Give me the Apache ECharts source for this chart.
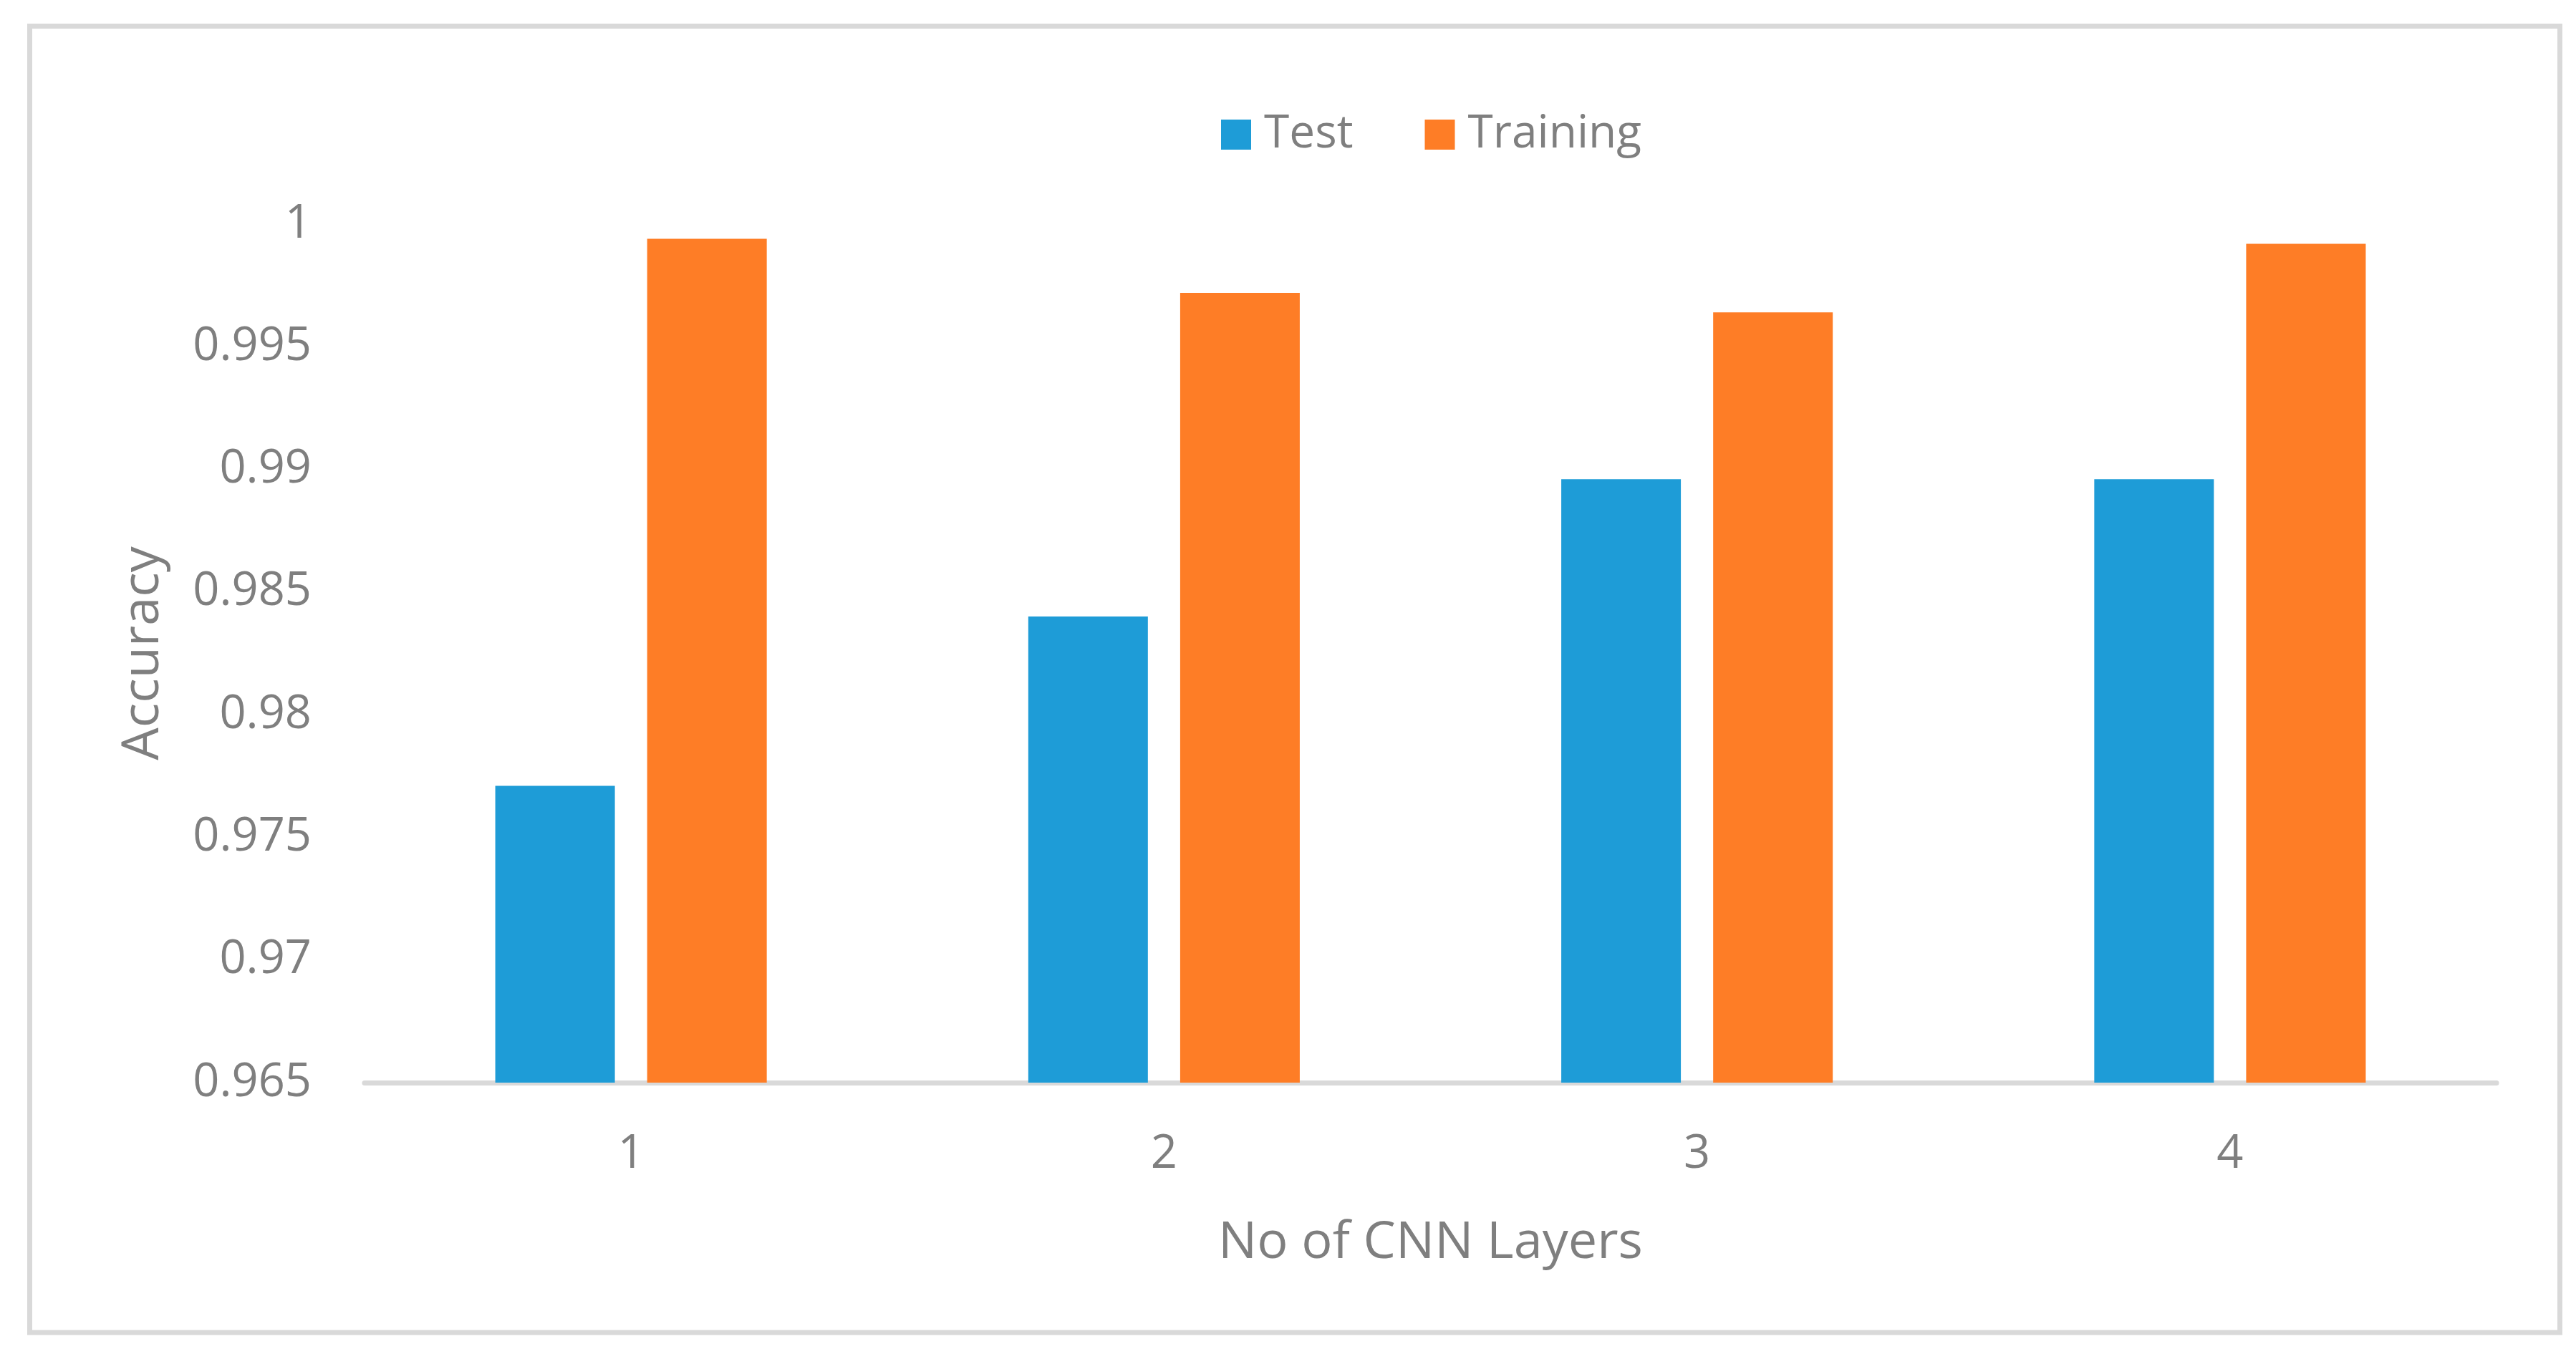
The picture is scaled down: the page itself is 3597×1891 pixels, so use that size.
<!DOCTYPE html>
<html>
<head>
<meta charset="utf-8">
<script src="https://cdn.jsdelivr.net/npm/echarts@6/dist/echarts.min.js"></script>
<style>
html,body{margin:0;padding:0;background:#fff;}
#chart{width:3597px;height:1891px;}
</style>
</head>
<body>
<div id="chart"></div>
<script>
const categories = ['1', '2', '3', '4'];
const testValues = [0.9771, 0.984, 0.9896, 0.9896];
const trainingValues = [0.9994, 0.9972, 0.9964, 0.9992];
const seriesNames = ['Test', 'Training'];
const yMin = 0.965, yMax = 1, yStep = 0.005;

const FONT = 'Open Sans';
const GREY = '#7f7f7f';
const chart = echarts.init(document.getElementById('chart'));
chart.setOption({
  backgroundColor: '#ffffff',
  animation: false,
  graphic: [{
    type: 'rect',
    shape: { x: 41.5, y: 36.5, width: 3533, height: 1824.5 },
    style: { fill: 'none', stroke: '#d9d9d9', lineWidth: 7 },
    silent: true
  }],
  legend: {
    data: seriesNames,
    left: 1700,
    top: 151,
    itemWidth: 42,
    itemHeight: 42,
    itemGap: 100,
    icon: 'rect',
    textStyle: { fontFamily: FONT, fontSize: 64, color: GREY, padding: [0, 0, 0, 13] }
  },
  grid: { left: 509, right: 111, top: 313, bottom: 379, containLabel: false },
  xAxis: {
    type: 'category',
    data: categories,
    axisLine: { show: true, lineStyle: { color: '#d9d9d9', width: 7 } },
    axisTick: { show: false },
    axisLabel: { fontFamily: FONT, fontSize: 65, color: GREY, margin: 68 },
    name: 'No of CNN Layers',
    nameLocation: 'middle',
    nameGap: 188,
    nameTextStyle: { fontFamily: FONT, fontSize: 72, color: GREY }
  },
  yAxis: {
    type: 'value',
    min: yMin,
    max: yMax,
    interval: yStep,
    axisLine: { show: false },
    axisTick: { show: false },
    splitLine: { show: false },
    axisLabel: {
      fontFamily: FONT, fontSize: 65, color: GREY, margin: 74,
      formatter: v => String(Number(v.toFixed(3)))
    },
    name: 'Accuracy',
    nameLocation: 'middle',
    nameRotate: 90,
    nameGap: 273,
    nameTextStyle: { fontFamily: FONT, fontSize: 72, color: GREY }
  },
  series: [
    { name: seriesNames[0], type: 'bar', data: testValues, barWidth: 167, barGap: '27%',
      itemStyle: { color: '#1e9cd7' } },
    { name: seriesNames[1], type: 'bar', data: trainingValues, barWidth: 167, barGap: '27%',
      itemStyle: { color: '#fe7d26' } }
  ]
});
</script>
</body>
</html>
